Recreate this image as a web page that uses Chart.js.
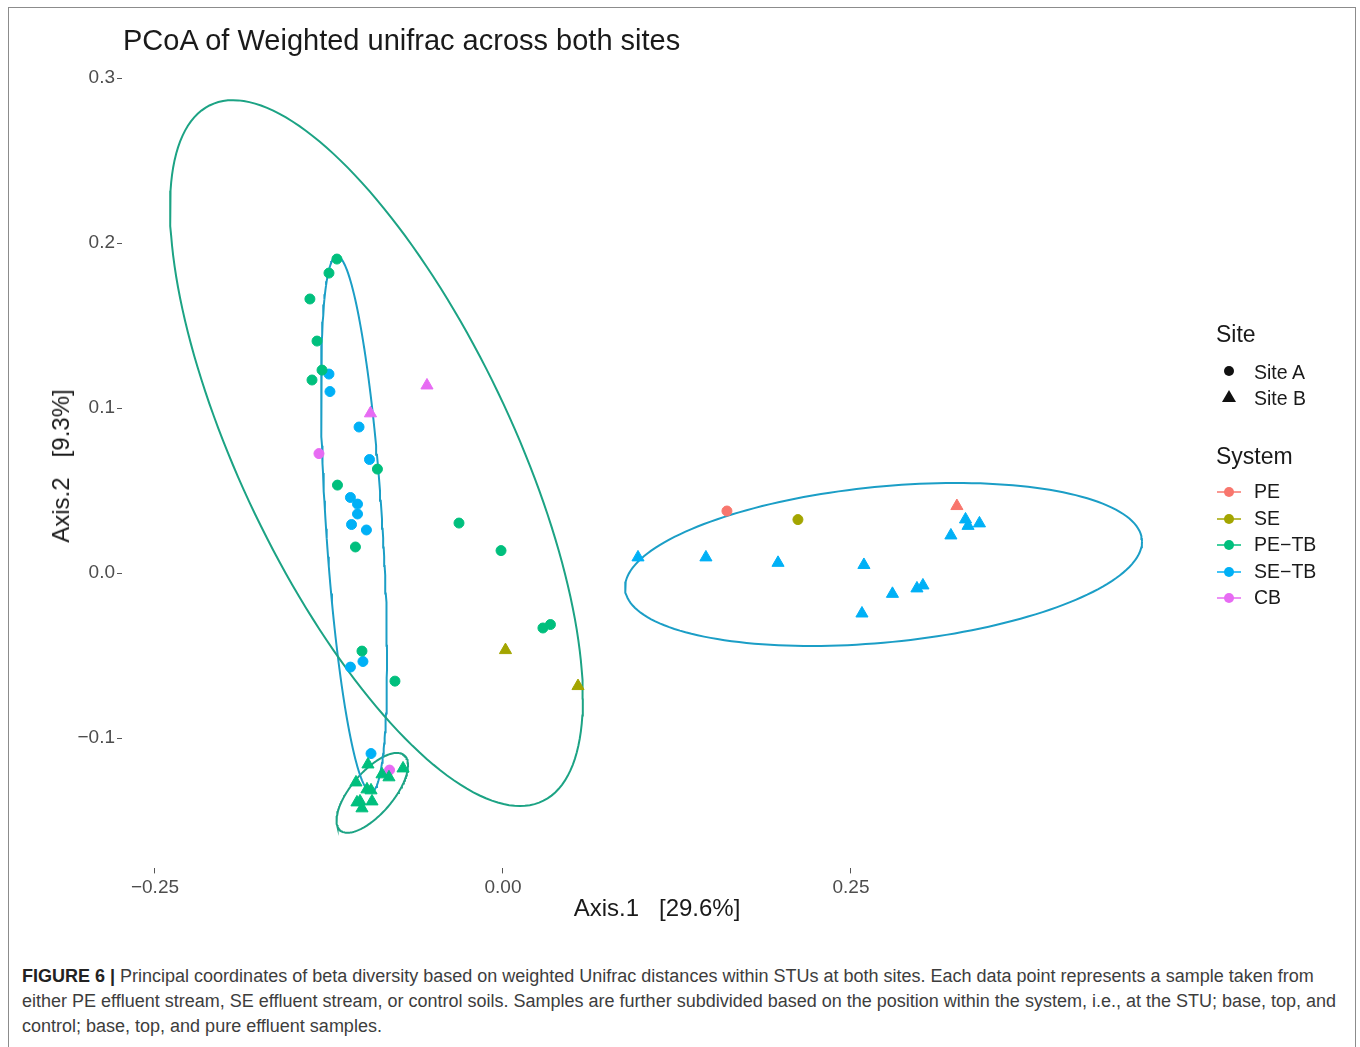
<!DOCTYPE html>
<html>
<head>
<meta charset="utf-8">
<title>PCoA of Weighted unifrac across both sites</title>
<script src="https://cdn.jsdelivr.net/npm/chart.js@4.4.1/dist/chart.umd.min.js"></script>
<style>
  html, body { margin: 0; padding: 0; background: #fff; }
  body { width: 1360px; height: 1047px; position: relative; overflow: hidden;
         font-family: "Liberation Sans", Arial, Helvetica, sans-serif; }
  #frame { position: absolute; left: 8px; top: 7px; width: 1348px; height: 1060px;
           border: 1px solid #8c8c8c; box-sizing: border-box; }
  #plot { position: absolute; left: 0; top: 0; }
  .t { position: absolute; white-space: pre; line-height: 1; color: #1a1a1a; }
  #title { left: 123px; top: 26px; font-size: 29px; }
  #xtitle { left: 0; width: 1314px; text-align: center; top: 896px; font-size: 24px; }
  #ytitle { left: 61px; top: 466px; font-size: 24px; transform: translate(-50%, -50%) rotate(-90deg); }
  .lgh { font-size: 23px; left: 1216px; }
  .lgi { font-size: 19.5px; left: 1254px; }
  .key { position: absolute; }
  #caption { position: absolute; left: 22px; top: 964px; font-size: 18px; line-height: 25px;
             color: #3d3d3d; white-space: nowrap; }
  #caption b { color: #222; }
</style>
</head>
<body>
<div id="frame"></div>
<canvas id="plot" width="1360" height="940"></canvas>

<div class="t" id="title">PCoA of Weighted unifrac across both sites</div>
<div class="t" id="xtitle">Axis.1   [29.6%]</div>
<div class="t" id="ytitle">Axis.2   [9.3%]</div>

<!-- legend: Site -->
<div class="t lgh" style="top:323px">Site</div>
<svg class="key" style="left:1222px;top:364px" width="14" height="14"><circle cx="7" cy="7" r="5" fill="#111"/></svg>
<div class="t lgi" style="top:363px">Site A</div>
<svg class="key" style="left:1221px;top:389px" width="16" height="14"><polygon points="8,1 15,13 1,13" fill="#111"/></svg>
<div class="t lgi" style="top:389px">Site B</div>

<!-- legend: System -->
<div class="t lgh" style="top:445px">System</div>
<div id="syslegend"></div>

<div id="caption"><b>FIGURE 6 |</b> Principal coordinates of beta diversity based on weighted Unifrac distances within STUs at both sites. Each data point represents a sample taken from<br>either PE effluent stream, SE effluent stream, or control soils. Samples are further subdivided based on the position within the system, i.e., at the STU; base, top, and<br>control; base, top, and pure effluent samples.</div>

<script>
// Axis ticks
const xTicks = [-0.25, 0, 0.25];
const xTickLabels = ['\u22120.25', '0.00', '0.25'];
const yTicks = [-0.1, 0, 0.1, 0.2, 0.3];
const yTickLabels = ['\u22120.1', '0.0', '0.1', '0.2', '0.3'];

// Systems and their colours
const systems = ['PE', 'SE', 'PE\u2212TB', 'SE\u2212TB', 'CB'];
const systemColors = ['#F8766D', '#A3A500', '#00BF7D', '#00B0F6', '#E76BF3'];

// Sample coordinates [Axis.1, Axis.2]; Site A = circles, Site B = triangles
const peSiteA = [[0.1609, 0.0376]];
const peSiteB = [[0.3261, 0.0406]];

const seSiteA = [[0.2119, 0.0324]];
const seSiteB = [[0.0018, -0.0467], [0.0539, -0.0685]];

const petbSiteA = [
  [-0.1193, 0.1903], [-0.1250, 0.1818], [-0.1387, 0.1661], [-0.1336, 0.1406],
  [-0.1300, 0.1230], [-0.1372, 0.1170], [-0.0902, 0.0630], [-0.1189, 0.0533],
  [-0.1060, 0.0158], [-0.0316, 0.0303], [-0.0014, 0.0136], [0.0287, -0.0333],
  [0.0341, -0.0312], [-0.1013, -0.0473], [-0.0776, -0.0655]
];
const petbSiteB = [
  [-0.0970, -0.1160], [-0.0718, -0.1184], [-0.1056, -0.1269], [-0.0869, -0.1220],
  [-0.0819, -0.1238], [-0.0977, -0.1311], [-0.0948, -0.1317], [-0.1027, -0.1384],
  [-0.0941, -0.1384], [-0.1013, -0.1426], [-0.1049, -0.1390]
];

const setbSiteA = [
  [-0.1250, 0.1206], [-0.1243, 0.1100], [-0.1034, 0.0885], [-0.0959, 0.0688],
  [-0.1096, 0.0458], [-0.1045, 0.0418], [-0.1045, 0.0358], [-0.1088, 0.0294],
  [-0.0981, 0.0261], [-0.1096, -0.0570], [-0.1006, -0.0536], [-0.0948, -0.1094]
];
const setbSiteB = [
  [0.0970, 0.0095], [0.1458, 0.0095], [0.1976, 0.0062], [0.2593, 0.0049],
  [0.2798, -0.0126], [0.2974, -0.0093], [0.3017, -0.0075], [0.2579, -0.0245],
  [0.3218, 0.0228], [0.3323, 0.0325], [0.3341, 0.0286], [0.3423, 0.0301]
];

const cbSiteA = [[-0.1322, 0.0724], [-0.0815, -0.1194]];
const cbSiteB = [[-0.0952, 0.0968], [-0.0546, 0.1137]];

// Confidence ellipses: [centre x, centre y, half-width x, half-height y, correlation]
const ellipsePETBSiteA = [-0.0909, 0.0727, 0.1483, 0.2139, -0.695];
const ellipseSETBSiteA = [-0.1070, 0.0297, 0.0237, 0.1624, -0.515];
const ellipsePETBSiteB = [-0.0939, -0.1332, 0.0257, 0.0242, 0.69];
const ellipseSETBSiteB = [0.2734, 0.0052, 0.1857, 0.0494, 0.28];

const ellipseGreen = '#1ca384';
const ellipseBlue = '#1b9ec6';

function toPoints(arr) { return arr.map(p => ({ x: p[0], y: p[1] })); }

function ellipseOutline(e, n = 180) {
  const [cx, cy, rx, ry, rho] = e;
  const s = Math.sqrt(1 - rho * rho);
  const pts = [];
  for (let i = 0; i <= n; i++) {
    const t = (i / n) * 2 * Math.PI;
    pts.push({ x: cx + rx * Math.cos(t), y: cy + ry * (rho * Math.cos(t) + s * Math.sin(t)) });
  }
  return pts;
}

function pointSet(label, data, color, shape) {
  const r = shape === 'triangle' ? 7 : 5;
  return {
    type: 'scatter', label, data: toPoints(data),
    backgroundColor: color, borderColor: color, borderWidth: 1,
    pointStyle: shape, pointRadius: r, pointHoverRadius: r, order: 1
  };
}

function ellipseSet(label, e, color) {
  return {
    type: 'line', label, data: ellipseOutline(e),
    borderColor: color, borderWidth: 2, pointRadius: 0, fill: false,
    tension: 0, showLine: true, order: 2
  };
}

const datasets = [
  ellipseSet('PE\u2212TB Site A ellipse', ellipsePETBSiteA, ellipseGreen),
  ellipseSet('SE\u2212TB Site A ellipse', ellipseSETBSiteA, ellipseBlue),
  ellipseSet('PE\u2212TB Site B ellipse', ellipsePETBSiteB, ellipseGreen),
  ellipseSet('SE\u2212TB Site B ellipse', ellipseSETBSiteB, ellipseBlue),
  pointSet('PE Site A', peSiteA, systemColors[0], 'circle'),
  pointSet('PE Site B', peSiteB, systemColors[0], 'triangle'),
  pointSet('SE Site A', seSiteA, systemColors[1], 'circle'),
  pointSet('SE Site B', seSiteB, systemColors[1], 'triangle'),
  pointSet('PE\u2212TB Site A', petbSiteA, systemColors[2], 'circle'),
  pointSet('PE\u2212TB Site B', petbSiteB, systemColors[2], 'triangle'),
  pointSet('SE\u2212TB Site A', setbSiteA, systemColors[3], 'circle'),
  pointSet('SE\u2212TB Site B', setbSiteB, systemColors[3], 'triangle'),
  pointSet('CB Site A', cbSiteA, systemColors[4], 'circle'),
  pointSet('CB Site B', cbSiteB, systemColors[4], 'triangle')
];

const tickFont = { family: '"Liberation Sans", Arial, sans-serif', size: 19 };
const tickColor = '#4d4d4d';

new Chart(document.getElementById('plot'), {
  type: 'scatter',
  data: { datasets },
  options: {
    responsive: false,
    animation: false,
    events: [],
    layout: { padding: { left: 62, right: 169.4, top: 63.2, bottom: 31.6 } },
    plugins: { legend: { display: false }, tooltip: { enabled: false }, title: { display: false } },
    scales: {
      x: {
        type: 'linear', min: -0.2737, max: 0.494,
        afterFit: s => { s.height = 40; },
        afterBuildTicks: s => { s.ticks = xTicks.map(v => ({ value: v })); },
        ticks: {
          font: tickFont, color: tickColor, padding: 3, maxRotation: 0, autoSkip: false,
          callback: v => { const i = xTicks.findIndex(t => Math.abs(t - v) < 1e-9); return i >= 0 ? xTickLabels[i] : ''; }
        },
        grid: { drawOnChartArea: false, drawTicks: true, tickLength: 5, tickColor: '#555', tickWidth: 1 },
        border: { display: false }
      },
      y: {
        type: 'linear', min: -0.179, max: 0.309,
        afterFit: s => { s.width = 60; },
        afterBuildTicks: s => { s.ticks = yTicks.map(v => ({ value: v })); },
        ticks: {
          font: tickFont, color: tickColor, padding: 2, autoSkip: false,
          callback: v => { const i = yTicks.findIndex(t => Math.abs(t - v) < 1e-9); return i >= 0 ? yTickLabels[i] : ''; }
        },
        grid: { drawOnChartArea: false, drawTicks: true, tickLength: 5, tickColor: '#555', tickWidth: 1 },
        border: { display: false }
      }
    }
  }
});

// System legend keys: line with a dot, in each system colour
const sysTops = [492, 519, 545, 572, 598];
const legend = document.getElementById('syslegend');
systems.forEach((name, i) => {
  const c = systemColors[i];
  const y = sysTops[i];
  legend.insertAdjacentHTML('beforeend',
    `<svg class="key" style="left:1216px;top:${y - 7}px" width="26" height="14">` +
    `<line x1="1" y1="7" x2="25" y2="7" stroke="${c}" stroke-width="2" stroke-opacity="0.75"/>` +
    `<circle cx="13" cy="7" r="5" fill="${c}"/></svg>` +
    `<div class="t lgi" style="top:${y - 10}px">${name}</div>`);
});
</script>
</body>
</html>
